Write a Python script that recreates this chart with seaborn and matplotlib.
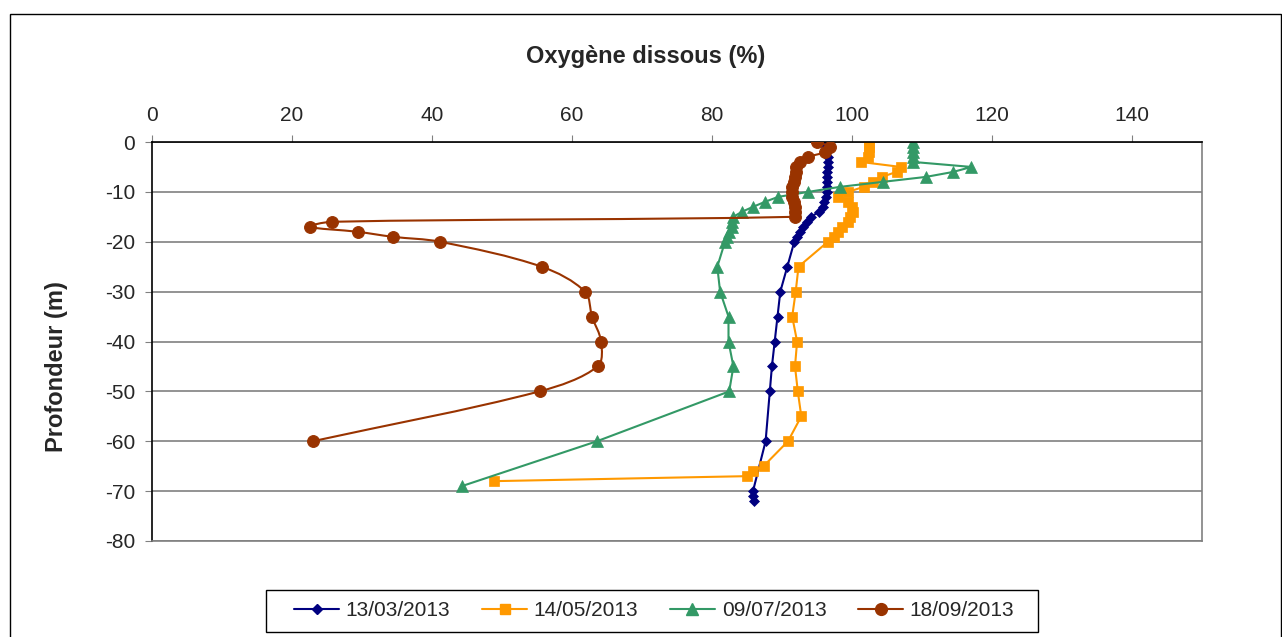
import numpy as np
import matplotlib
matplotlib.use("Agg")
import matplotlib.pyplot as plt
from matplotlib.path import Path
from matplotlib.patches import PathPatch, Rectangle
from matplotlib.lines import Line2D
import seaborn as sns

# Profils d'oxygène dissous (%) selon la profondeur (m)
prof_mars = [0, -1, -2, -3, -4, -5, -6, -7, -8, -9, -10, -11, -12, -13, -14, -15,
             -16, -17, -18, -19, -20, -25, -30, -35, -40, -45, -50, -60, -70, -71, -72]
oxy_mars = [95.8, 96.3, 96.5, 96.6, 96.6, 96.6, 96.5, 96.5, 96.4, 96.4, 96.4, 96.3, 96.1, 95.9,
            95.3, 94.2, 93.6, 93.0, 92.6, 92.2, 91.8, 90.8, 89.8, 89.4, 89.0, 88.6, 88.3,
            87.7, 85.9, 85.9, 86.0]

prof_mai = [0, -1, -2, -3, -4, -5, -6, -7, -8, -9, -10, -11, -12, -13, -14, -15, -16,
            -17, -18, -19, -20, -25, -30, -35, -40, -45, -50, -55, -60, -65, -66, -67, -68]
oxy_mai = [102.5, 102.5, 102.5, 102.3, 101.3, 107.0, 106.4, 104.3, 103.0, 101.7, 99.5,
           98.0, 99.5, 100.0, 100.2, 99.8, 99.5, 98.6, 98.0, 97.4, 96.6, 92.4, 92.0, 91.5,
           92.2, 91.9, 92.3, 92.8, 90.9, 87.4, 85.9, 85.0, 48.9]

prof_juil = [0, -1, -2, -3, -4, -5, -6, -7, -8, -9, -10, -11, -12, -13, -14, -15, -16,
             -17, -18, -19, -20, -25, -30, -35, -40, -45, -50, -60, -69]
oxy_juil = [108.8, 108.8, 108.8, 108.8, 108.8, 117.1, 114.5, 110.6, 104.4, 98.3, 93.8,
            89.5, 87.6, 85.9, 84.3, 83.1, 82.9, 82.9, 82.5, 82.2, 81.9, 80.8, 81.2, 82.4,
            82.4, 83.1, 82.5, 63.6, 44.3]

prof_sept = [0, -1, -2, -3, -4, -5, -6, -7, -8, -9, -10, -11, -12, -13, -14, -15, -16,
             -17, -18, -19, -20, -25, -30, -35, -40, -45, -50, -60]
oxy_sept = [95.0, 96.9, 96.2, 93.8, 92.6, 92.1, 92.0, 91.9, 91.7, 91.5, 91.4, 91.4, 91.7,
            91.9, 91.9, 91.9, 25.7, 22.6, 29.4, 34.4, 41.2, 55.7, 61.9, 62.9, 64.2, 63.7,
            55.4, 23.0]

dates = ["13/03/2013", "14/05/2013", "09/07/2013", "18/09/2013"]
couleurs = ["#000080", "#FF9900", "#339966", "#993300"]
marqueurs = ["D", "s", "^", "o"]
tailles = [5, 7.5, 8, 8.5]

sns.set_style("white")
plt.rcParams['font.family'] = ['Liberation Sans', 'DejaVu Sans']
plt.rcParams['axes.unicode_minus'] = False

W, H = 1282, 637
fig = plt.figure(figsize=(W / 100, H / 100), dpi=100)
ax = fig.add_axes([151.7 / W, 1 - 541 / H, 1050 / W, 399 / H])

series = [(oxy_mars, prof_mars), (oxy_mai, prof_mai), (oxy_juil, prof_juil)]
for (x, y), c, m, t in zip(series, couleurs[:3], marqueurs[:3], tailles[:3]):
    sns.lineplot(x=x, y=y, sort=False, estimator=None, color=c, marker=m,
                 markersize=t, markeredgecolor=c, markeredgewidth=0.5, lw=1.5, ax=ax)

# Septembre : courbe lissée (Bézier, tangentes pondérées par la longueur des segments)
pts = np.column_stack([oxy_sept, prof_sept]).astype(float)
echelle = np.array([7.0, 5.0])  # px par unité sur chaque axe
n = len(pts)
verts = [pts[0]]
codes = [Path.MOVETO]
for i in range(n - 1):
    p0 = pts[max(i - 1, 0)]
    p1 = pts[i]
    p2 = pts[i + 1]
    p3 = pts[min(i + 2, n - 1)]
    d01 = np.linalg.norm((p1 - p0) * echelle)
    d12 = np.linalg.norm((p2 - p1) * echelle)
    d23 = np.linalg.norm((p3 - p2) * echelle)
    c1 = p1 + (p2 - p0) * d12 / (d01 + d12) / 3
    c2 = p2 - (p3 - p1) * d12 / (d12 + d23) / 3
    verts += [c1, c2, p2]
    codes += [Path.CURVE4] * 3
ax.add_patch(PathPatch(Path(verts, codes), fill=False, edgecolor=couleurs[3], lw=1.5, zorder=2))
sns.lineplot(x=oxy_sept, y=prof_sept, sort=False, estimator=None, color=couleurs[3],
             marker=marqueurs[3], markersize=tailles[3], markeredgecolor=couleurs[3],
             linestyle="", ax=ax, zorder=3)

ax.set_xlim(0, 150)
ax.set_ylim(-80, 0)
ax.set_xticks(range(0, 141, 20))
ax.set_yticks(range(-80, 1, 10))
ax.set_xlabel("")
ax.set_ylabel("")
ax.xaxis.tick_top()
ax.tick_params(axis="x", top=True, bottom=False, labeltop=True, labelbottom=False,
               length=5, color="#808080", labelsize=15, pad=7)
ax.tick_params(axis="y", left=True, length=5, color="#808080", labelsize=15, pad=7)
ax.yaxis.grid(True, color="#808080", lw=1.2)
ax.xaxis.grid(False)
ax.set_axisbelow(True)
ax.spines["top"].set_color("black")
ax.spines["left"].set_color("black")
ax.spines["right"].set_color("#808080")
ax.spines["bottom"].set_color("#808080")
for s in ax.spines.values():
    s.set_linewidth(1.2)

fig.text(646 / W, 1 - 56 / H, "Oxygène dissous (%)", ha="center", va="center",
         fontsize=17, fontweight="bold")
fig.text(57 / W, 1 - 367 / H, "Profondeur (m)", ha="center", va="center",
         rotation=90, fontsize=17, fontweight="bold")

poignees = [Line2D([0], [0], color=c, marker=m, markersize=t, markeredgecolor=c, lw=1.5)
            for c, m, t in zip(couleurs, marqueurs, tailles)]
fig.legend(poignees, dates, loc="center", bbox_to_anchor=(654 / W, 1 - 611 / H),
           ncol=4, frameon=False, fontsize=15, handlelength=2.2, handletextpad=0.3,
           columnspacing=1.5)
# cadre de la légende
fig.patches.append(Rectangle((266 / W, 1 - 632 / H), (1038 - 266) / W, 42 / H,
                             transform=fig.transFigure, fill=False, ec="black", lw=1))
# cadre du graphique
fig.patches.append(Rectangle((9.5 / W, -0.05), (1280.5 - 9.5) / W, (H - 14.3) / H + 0.05,
                             transform=fig.transFigure, fill=False, ec="black", lw=1))

fig.savefig("out.png", dpi=100)
